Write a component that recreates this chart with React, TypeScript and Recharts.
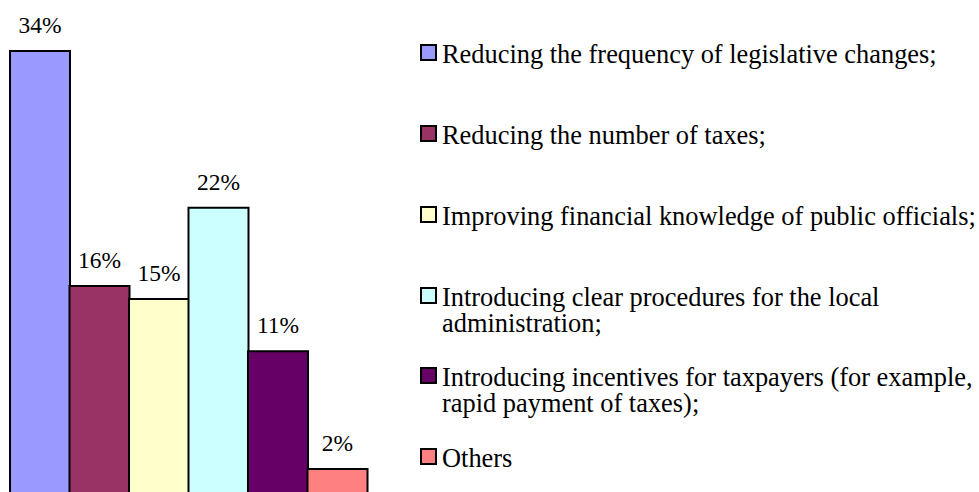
import React from 'react';
import { BarChart, Bar, XAxis, YAxis, Cell, LabelList, Legend } from 'recharts';

const categories = [
  'Reducing the frequency of legislative changes;',
  'Reducing the number of taxes;',
  'Improving financial knowledge of public officials;',
  'Introducing clear procedures for the local administration;',
  'Introducing incentives for taxpayers (for example, rapid payment of taxes);',
  'Others',
];
const shares = [34, 16, 15, 22, 11, 2];
const colors = ['#9999FF', '#993366', '#FFFFCC', '#CCFFFF', '#660066', '#FF8080'];

const data = categories.map((name, i) => ({ name, value: shares[i] }));

const FONT = '"Liberation Serif", "Times New Roman", serif';
// first-line baselines of the legend entries
const legendBaselines = [63, 144, 225, 306, 386, 467];

const renderLegend = () => (
  <div style={{ position: 'relative', width: 979, height: 492, fontFamily: FONT }}>
    {categories.map((name, i) => (
      <React.Fragment key={name}>
        <div
          style={{
            position: 'absolute',
            left: 420,
            top: legendBaselines[i] - 19,
            width: 17,
            height: 17,
            boxSizing: 'border-box',
            border: '2px solid #000',
            background: colors[i],
          }}
        />
        <div
          style={{
            position: 'absolute',
            left: 442,
            top: legendBaselines[i] - 21.9,
            width: 550,
            fontSize: 26.4,
            lineHeight: '26px',
            color: '#000',
            textAlign: 'left',
          }}
        >
          {name}
        </div>
      </React.Fragment>
    ))}
  </div>
);

const App: React.FC = () => {
  return (
    <div
      style={{
        position: 'absolute',
        left: 0,
        top: 0,
        width: 979,
        height: 492,
        overflow: 'hidden',
        background: '#fff',
      }}
    >
      <BarChart
        width={979}
        height={500}
        data={data}
        margin={{ top: 51, right: 612, bottom: 5, left: 10 }}
        barCategoryGap={0}
        barGap={0}
      >
        <XAxis dataKey="name" hide />
        <YAxis hide domain={[0, 34]} />
        <Bar dataKey="value" stroke="#000" strokeWidth={2} isAnimationActive={false}>
          {data.map((d, i) => (
            <Cell key={d.name} fill={colors[i]} />
          ))}
          <LabelList
            dataKey="value"
            position="top"
            offset={18}
            formatter={(v: number) => `${v}%`}
            style={{ fontSize: 23.5, fill: '#000', fontFamily: FONT }}
          />
        </Bar>
        <Legend
          layout="vertical"
          align="center"
          verticalAlign="middle"
          content={renderLegend}
          wrapperStyle={{ left: 0, top: 0, width: 979, height: 492 }}
        />
      </BarChart>
    </div>
  );
};

export default App;
